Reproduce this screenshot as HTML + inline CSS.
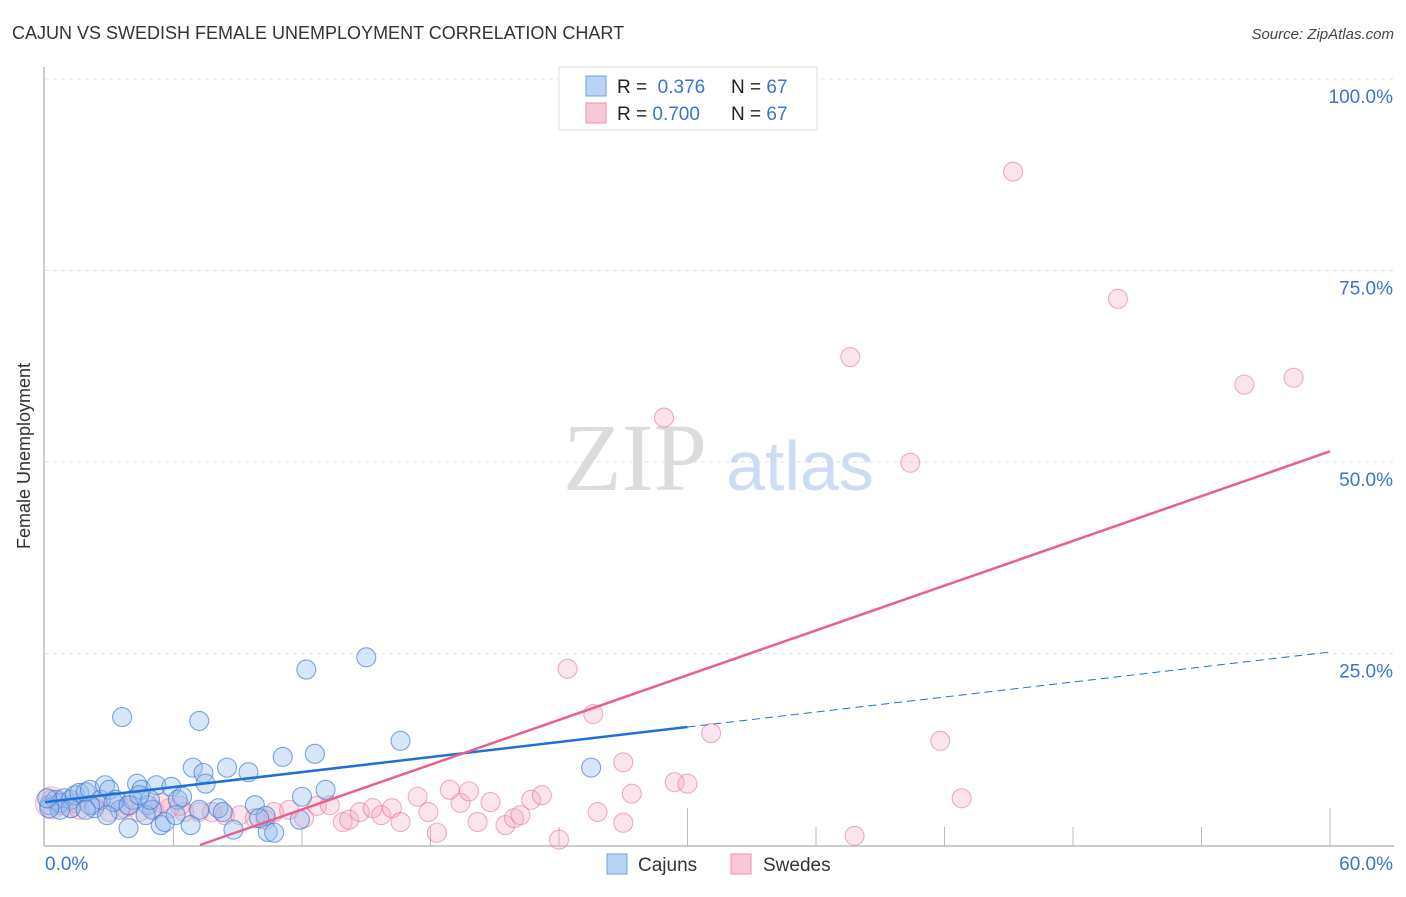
<!DOCTYPE html>
<html><head><meta charset="utf-8"><style>
body{margin:0;background:#fff;font-family:"Liberation Sans",sans-serif}
svg text{font-family:"Liberation Sans",sans-serif}
svg text.serif{font-family:"Liberation Serif",serif}
</style></head><body>
<svg width="1406" height="892" viewBox="0 0 1406 892">
<text x="12" y="39" font-size="18" fill="#333">CAJUN VS SWEDISH FEMALE UNEMPLOYMENT CORRELATION CHART</text>
<text x="1394" y="39" font-size="15" fill="#444" font-style="italic" text-anchor="end">Source: ZipAtlas.com</text>
<g id="grid"></g>
<text class="serif" x="635" y="490" font-size="96" fill="#dcdcdc" text-anchor="middle">ZIP</text>
<text x="800" y="490" font-size="70" fill="#cddcf3" text-anchor="middle">atlas</text>
<g id="pts"></g>
<g id="lines"></g>
<text x="30" y="456" font-size="18" fill="#333" text-anchor="middle" transform="rotate(-90 30 456)">Female Unemployment</text>
<g>
<rect x="559" y="67" width="258" height="63" fill="#fff" stroke="#ddd"/>
<rect x="586" y="76" width="20" height="20" fill="#b8d3f5" stroke="#6fa0e0"/>
<rect x="586" y="103" width="20" height="20" fill="#f9c8d6" stroke="#ec90ad"/>
<text x="617" y="93" font-size="19" fill="#222">R = <tspan fill="#3a74d0">&#160;0.376</tspan><tspan x="731">N = </tspan><tspan fill="#3a74d0">67</tspan></text>
<text x="617" y="120" font-size="19" fill="#222">R = <tspan fill="#3a74d0">0.700</tspan><tspan x="731">N = </tspan><tspan fill="#3a74d0">67</tspan></text>
</g>
<g>
<rect x="607" y="854" width="20" height="20" fill="#b8d3f5" stroke="#6fa0e0"/>
<text x="638" y="871" font-size="19" fill="#333">Cajuns</text>
<rect x="731" y="854" width="20" height="20" fill="#f9c8d6" stroke="#ec90ad"/>
<text x="763" y="871" font-size="19" fill="#333">Swedes</text>
</g>
</svg>
<script>
const yTicks=[25,50,75,100];
const yTickLabels=["25.0%","50.0%","75.0%","100.0%"];
const xTicks=[0,6,12,18,24,30,36,42,48,54,60];
const xEndLabels=["0.0%","60.0%"];
const cajunX=[0.2,0.5,0.7,0.9,1.2,1.4,1.6,1.9,2.1,2.3,2.6,2.8,3.0,3.3,3.5,3.6,3.9,4.1,4.3,4.5,4.8,5.0,5.2,5.4,5.6,5.9,6.2,6.4,6.9,7.2,7.4,7.5,8.1,8.3,8.5,8.8,9.5,9.8,10.3,10.4,10.7,11.1,12.0,12.2,12.6,13.1,15.0,16.6,25.5,2.1,1.2,0.7,3.2,4.7,0.2,0.1,1.9,2.9,3.9,4.9,6.1,6.8,7.2,10.0,11.9,4.4];
const cajunY=[5.2,5.9,5.5,6.1,5.9,6.5,6.8,6.9,7.2,4.8,5.9,7.8,7.2,5.9,4.6,16.7,2.2,5.9,8.0,7.2,5.2,4.6,7.8,2.6,3.0,7.6,5.9,6.3,10.1,16.2,9.4,8.0,4.8,4.3,10.1,2.0,9.5,5.2,3.8,1.7,1.6,11.5,6.3,22.9,11.9,7.2,24.5,13.6,10.1,5.2,4.8,4.6,5.6,3.9,4.8,6.1,4.6,3.9,5.2,5.9,3.9,2.6,4.6,3.5,3.3,6.5];
const swedeX=[0.3,0.7,1.2,1.6,2.3,3.0,3.7,4.4,5.1,5.8,6.5,7.2,7.8,8.4,9.1,9.8,10.7,11.4,12.1,12.7,13.3,13.9,14.2,14.7,15.3,15.7,16.2,16.6,17.4,17.9,18.3,18.9,19.4,19.8,20.2,20.8,21.5,21.9,22.2,22.7,23.2,24.0,24.4,25.6,25.8,27.0,27.0,27.4,28.9,29.4,30.0,31.1,37.6,37.8,40.4,41.8,42.8,45.2,50.1,56.0,58.3,1.4,2.6,3.9,5.4,6.3,10.3];
const swedeY=[5.9,5.2,4.8,4.6,5.2,4.3,4.8,4.3,4.6,4.8,4.3,4.3,4.3,3.9,3.9,3.5,4.3,4.6,3.5,5.1,5.2,3.0,3.3,4.3,4.8,3.9,4.8,3.0,6.3,4.3,1.6,7.2,5.5,7.0,3.0,5.6,2.6,3.5,3.9,5.9,6.5,0.7,23.0,17.1,4.3,10.8,2.9,6.7,55.8,8.2,8.0,14.6,63.7,1.2,49.9,13.6,6.1,87.9,71.3,60.1,61.0,5.5,5.9,5.1,5.5,5.1,3.3];
const cajunLine=[5.6,25.2]; // y at x=0 and x=60
const cajunSolidEnd=30;
const swedeLine=[-7.05,0.974]; // intercept, slope
const NS="http://www.w3.org/2000/svg";
const X=v=>45+v/60*1285, Y=v=>845-v/100*766;
function mk(t,a,p){const e=document.createElementNS(NS,t);for(const k in a)e.setAttribute(k,a[k]);p.appendChild(e);return e;}
const g=document.getElementById('grid');
yTicks.forEach((t,i)=>{
 const l=mk('line',{x1:45,x2:1394,y1:Y(t),y2:Y(t),stroke:'#e2e2e2','stroke-dasharray':'4,4'},g);
 
 
 const tx=mk('text',{x:1393,y:Y(t)+24,'font-size':19,fill:'#3a74d0','text-anchor':'end'},g);
 tx.textContent=yTickLabels[i];
 
 
});
mk('line',{x1:44,x2:44,y1:67,y2:846,stroke:'#bbb','stroke-width':1.5},g);
mk('line',{x1:44,x2:1394,y1:846,y2:846,stroke:'#bbb','stroke-width':1.5},g);
xTicks.forEach((t,i)=>{
 if(i==0)return;
 const tk=mk('line',{x1:X(t),x2:X(t),y1:i%5==0?808:827,y2:846,stroke:'#bbb'},g);
 
 
});
const xl0=mk('text',{x:45,y:870,'font-size':19,fill:'#3a74d0'},g);xl0.textContent=xEndLabels[0];


const xl1=mk('text',{x:1393,y:870,'font-size':19,fill:'#3a74d0','text-anchor':'end'},g);xl1.textContent=xEndLabels[1];


const p=document.getElementById('pts');
const big=mk('circle',{cx:X(0.3),cy:Y(5.5),r:16,fill:'rgba(244,160,185,0.3)',stroke:'rgba(230,110,150,0.45)'},p);


swedeX.forEach((x,i)=>{
 const c=mk('circle',{cx:X(x),cy:Y(swedeY[i]),r:9.5,fill:'rgba(244,170,195,0.32)',stroke:'rgba(230,110,150,0.55)','stroke-width':1.1},p);
 
 
});
cajunX.forEach((x,i)=>{
 const c=mk('circle',{cx:X(x),cy:Y(cajunY[i]),r:9.5,fill:'rgba(150,190,240,0.38)',stroke:'rgba(60,120,210,0.65)','stroke-width':1.1},p);
 
 
});
const L=document.getElementById('lines');
const cy=x=>cajunLine[0]+(cajunLine[1]-cajunLine[0])*x/60;
const b1=mk('line',{x1:X(0),y1:Y(cy(0)),x2:X(cajunSolidEnd),y2:Y(cy(cajunSolidEnd)),stroke:'#1f6fd8','stroke-width':2.5},L);


const b2=mk('line',{x1:X(cajunSolidEnd),y1:Y(cy(cajunSolidEnd)),x2:X(60),y2:Y(cy(60)),stroke:'#1f6fd8','stroke-width':1,'stroke-dasharray':'8,5'},L);


const x0=-swedeLine[0]/swedeLine[1];
const s1=mk('line',{x1:X(x0),y1:Y(0),x2:X(60),y2:Y(swedeLine[0]+swedeLine[1]*60),stroke:'#e8608e','stroke-width':2.5},L);


</script>
</body></html>
